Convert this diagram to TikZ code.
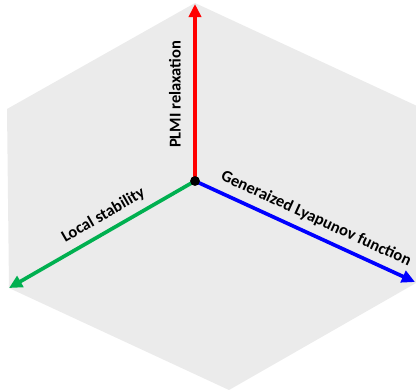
\documentclass[tikz,border=0pt]{standalone}
\usepackage{fontspec}
\setmainfont{Carlito}
\usetikzlibrary{arrows.meta}
\definecolor{hexgray}{RGB}{235,235,235}
\definecolor{axisgreen}{RGB}{0,176,80}
\tikzset{
	% arrows and labels of the three axes
	axis arrow/.style={line width=2.1pt,-{Triangle[length=7.5pt,width=7pt]}},
	axis label/.style={font=\fontsize{9.4}{11}\selectfont\bfseries, text=black, sloped, inner sep=0pt},
	centre dot/.style={circle,fill=black,inner sep=0pt,minimum size=5.6pt}
}

\begin{document}
\begin{tikzpicture}[x=0.02cm, y=-0.02cm]

  \useasboundingbox (0,0) rectangle (416,390);
  \clip (0,0) rectangle (416,390);
  \fill[hexgray] (195,3) -- (430,112) -- (430,275) -- (229,390) -- (9,288) -- (7,109) -- cycle;

  \coordinate(o) at (195,181);
  \coordinate(top) at (195,4);
  \coordinate(right) at (415,282);
  \coordinate(left) at (9,288);

  \draw[axis arrow, red] (o) -- node[axis label, above=7pt, pos=0.49]{PLMI relaxation} (top);
  \draw[axis arrow, blue] (o) -- node[axis label, above=4pt, pos=0.52]{Generaized Lyapunov function} (right);
  \draw[axis arrow, axisgreen] (o) -- node[axis label, above=4pt, pos=0.45]{Local stability} (left);

  %% black dot where the axes meet
  \node(dot) at (o) [centre dot]{};

\end{tikzpicture}
\end{document}
